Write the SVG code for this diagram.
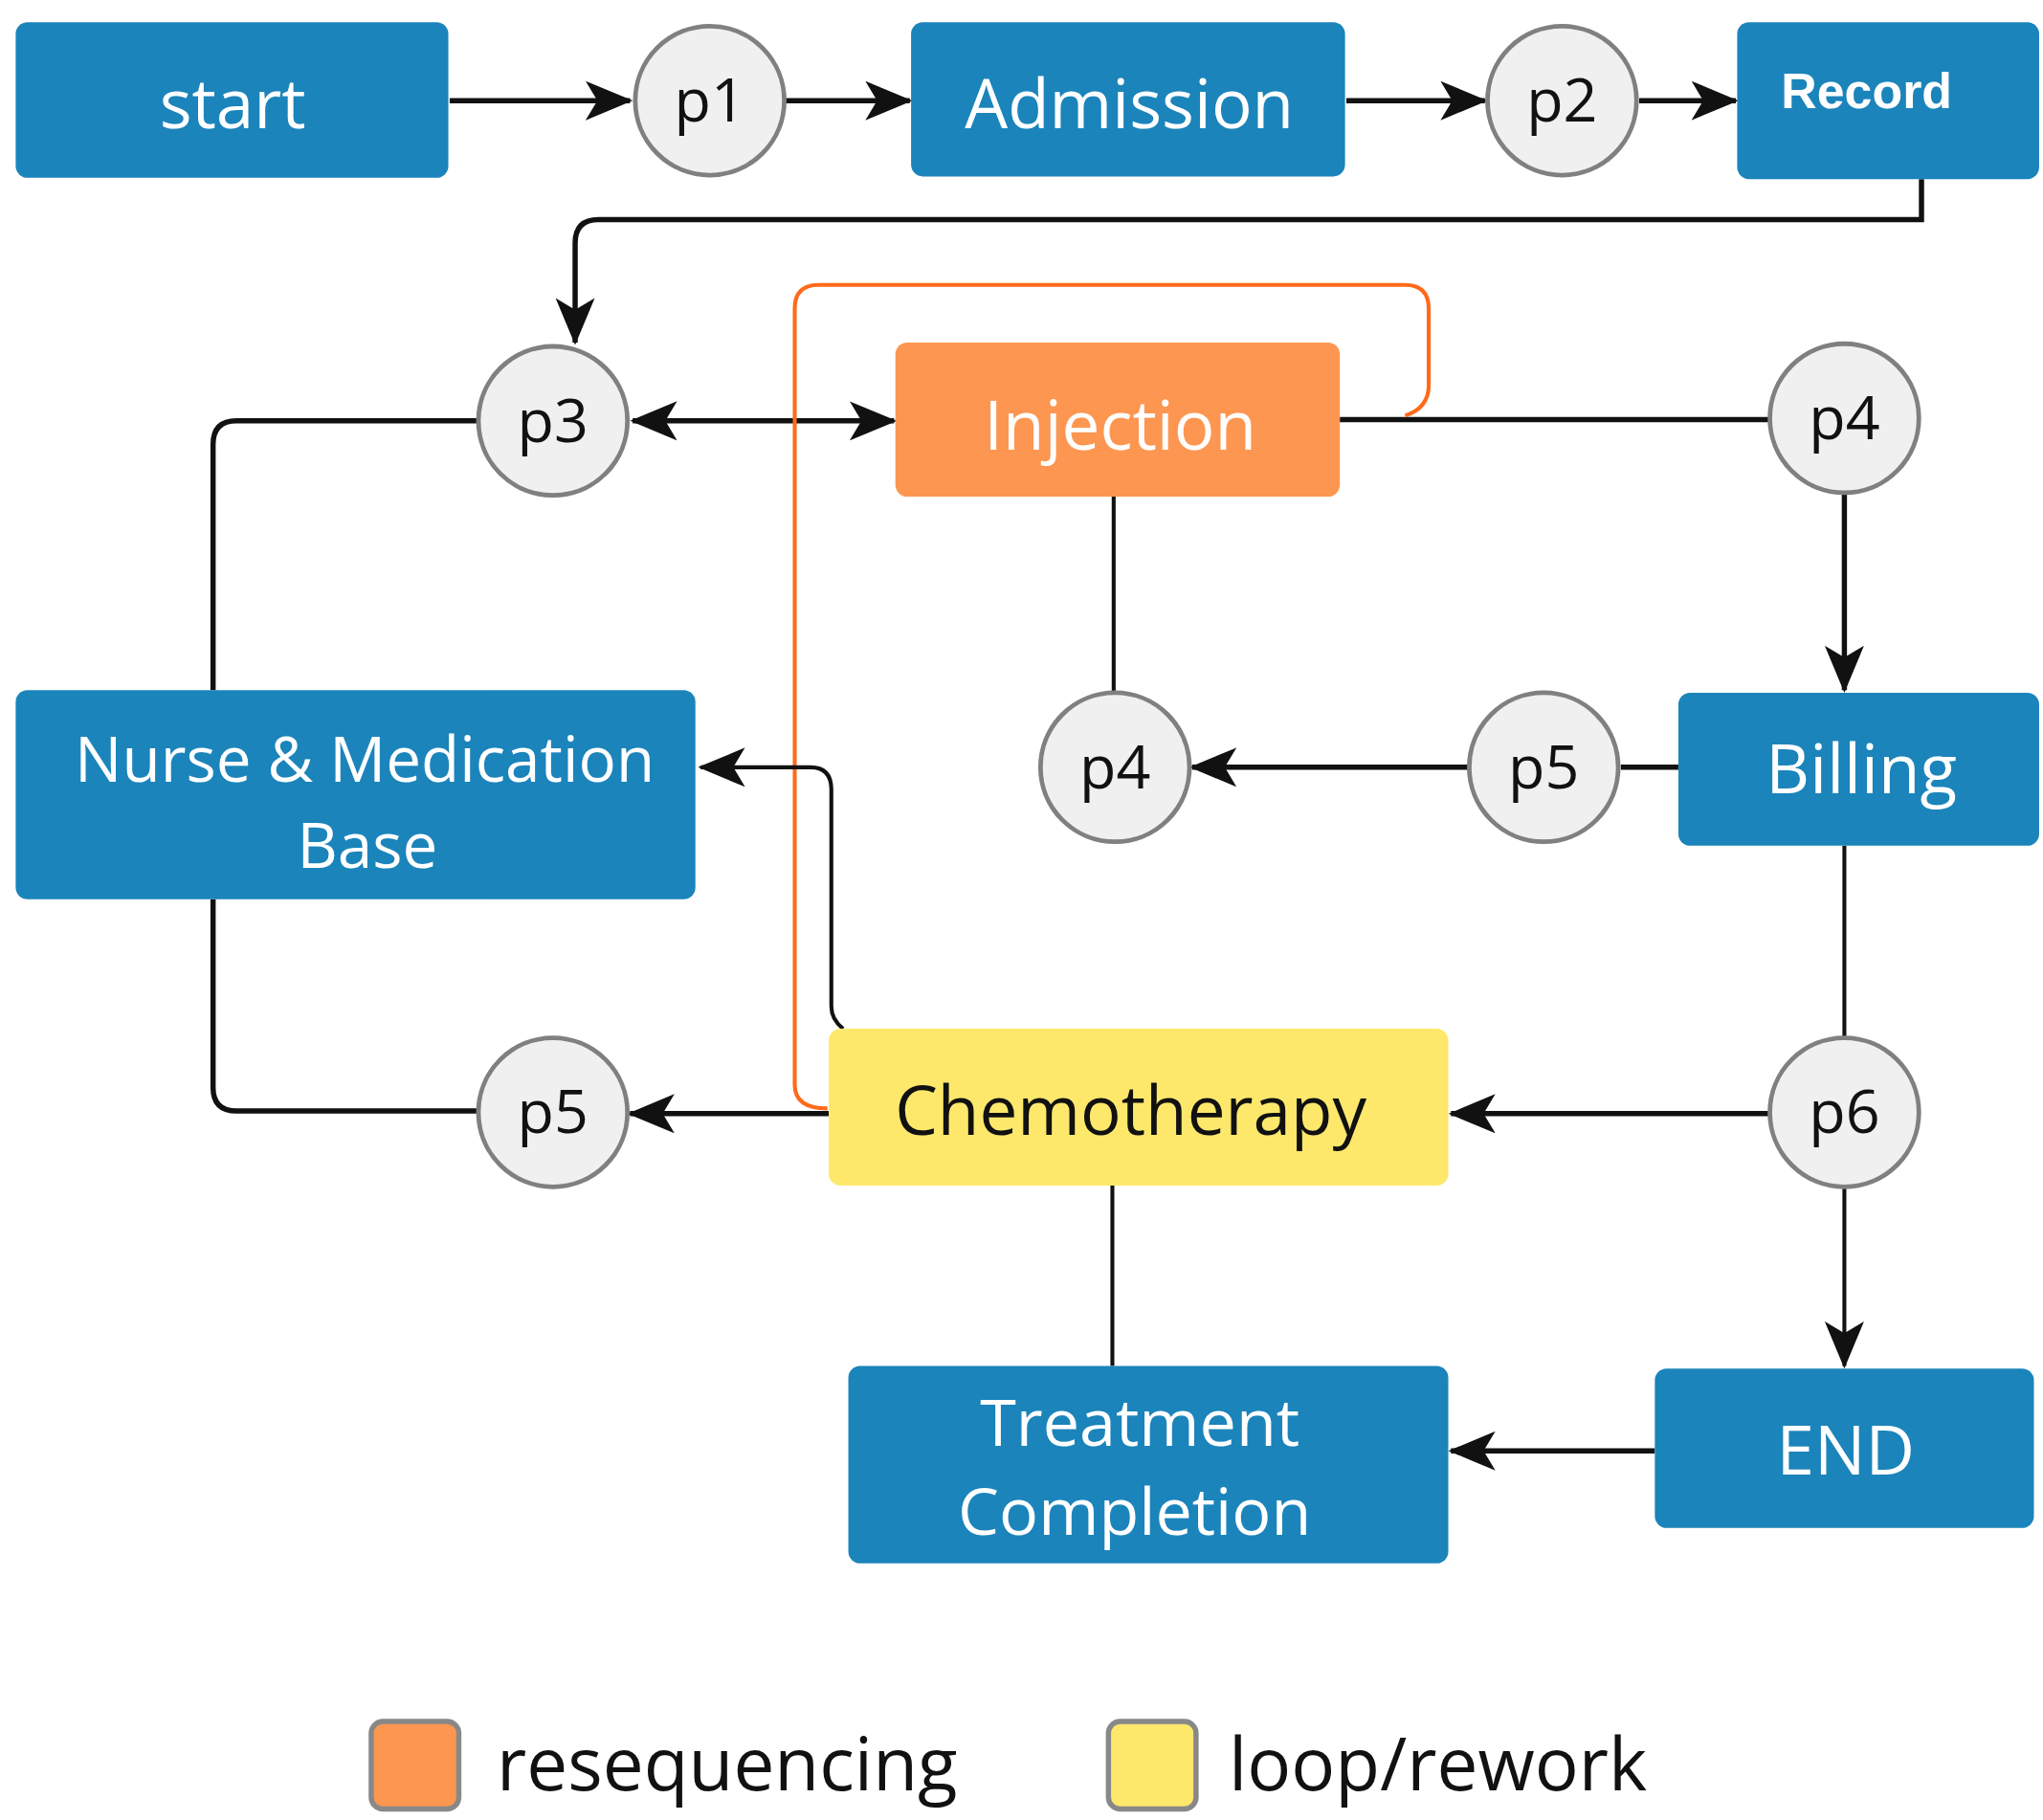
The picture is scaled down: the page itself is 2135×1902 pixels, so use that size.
<svg xmlns="http://www.w3.org/2000/svg" width="2135" height="1902" viewBox="0 0 2135 1902">
<style>
.box{fill:#1b84bb}
.pl{fill:#f0f0f0;stroke:#808080;stroke-width:3.5}
.t{font-family:"Open Sans","Noto Sans",sans-serif;fill:#fff;text-anchor:middle;font-size:52px}
.pt{font-family:"Open Sans","Noto Sans",sans-serif;fill:#111;text-anchor:middle;font-size:46px}
.c{fill:none;stroke:#111;stroke-width:4}
.c2{fill:none;stroke:#111;stroke-width:3}
</style>
<defs>
<marker id="a" markerUnits="userSpaceOnUse" markerWidth="36" markerHeight="30" refX="34" refY="15" orient="auto-start-reverse"><path d="M0,0 L36,15 L0,30 L9,15 Z" fill="#111"/></marker>
</defs>
<rect width="2135" height="1902" fill="#fff"/>
<g transform="scale(1.366)">
<g id="connectors">
<path class="c" d="M344,77 H482" marker-end="url(#a)"/>
<path class="c" d="M601,77 H696" marker-end="url(#a)"/>
<path class="c" d="M1030,77 H1136" marker-end="url(#a)"/>
<path class="c" d="M1254,77 H1328" marker-end="url(#a)"/>
<path class="c" d="M1470,137 V168 H458 Q440,168 440,186 V262" marker-end="url(#a)"/>
<path class="c" d="M484,322 H684" marker-start="url(#a)" marker-end="url(#a)"/>
<path class="c" d="M1025,321 H1354"/>
<path fill="none" stroke="#ff6a1a" stroke-width="3" d="M1075,318 Q1093,312 1093,295 V236 Q1093,218 1075,218 H626 Q608,218 608,236 V830 Q608,848 633,848"/>
<path class="c2" d="M852,380 V530"/>
<path class="c" d="M1411,378 V528" marker-end="url(#a)"/>
<path class="c" d="M1240,587 H1284"/>
<path class="c" d="M1123,587 H912" marker-end="url(#a)"/>
<path class="c" d="M365,322 H181 Q163,322 163,340 V528"/>
<path class="c" d="M163,688 V832 Q163,850 181,850 H365"/>
<path class="c" d="M634,852 H482" marker-end="url(#a)"/>
<path class="c2" d="M645,787 Q636,780 636,770 V604 Q636,587 620,587 H536" marker-end="url(#a)"/>
<path class="c2" d="M1411,647 V793"/>
<path class="c" d="M1353,852 H1110" marker-end="url(#a)"/>
<path class="c2" d="M1411,909 V1045" marker-end="url(#a)"/>
<path class="c" d="M1266,1110 H1110" marker-end="url(#a)"/>
<path class="c2" d="M851,907 V1045"/>
</g>
<g id="start"><rect class="box" x="12" y="17" width="331" height="119" rx="9"/><text class="t" x="178" y="98">start</text></g>
<g id="p1"><circle class="pl" cx="543" cy="77" r="57"/><text class="pt" x="543" y="93">p1</text></g>
<g id="admission"><rect class="box" x="697" y="17" width="332" height="118" rx="9"/><text class="t" x="864" y="98">Admission</text></g>
<g id="p2"><circle class="pl" cx="1195" cy="77" r="57"/><text class="pt" x="1195" y="93">p2</text></g>
<g id="record"><rect class="box" x="1329" y="17" width="231" height="120" rx="9"/><text class="t" x="1428" y="83" style="font-size:38px;font-weight:bold;font-family:'Liberation Sans',sans-serif">Record</text></g>
<g id="p3"><circle class="pl" cx="423" cy="322" r="57"/><text class="pt" x="423" y="338">p3</text></g>
<g id="injection"><rect x="685" y="262" width="340" height="118" rx="9" fill="#fd9650"/><text class="t" x="857" y="344">Injection</text></g>
<g id="p4a"><circle class="pl" cx="1411" cy="320" r="57"/><text class="pt" x="1411" y="336">p4</text></g>
<g id="nurse"><rect class="box" x="12" y="528" width="520" height="160" rx="9"/><text class="t" x="279" y="598" style="font-size:48px">Nurse &amp; Medication</text><text class="t" x="281" y="664" style="font-size:48px">Base</text></g>
<g id="p4b"><circle class="pl" cx="853" cy="587" r="57"/><text class="pt" x="853" y="603">p4</text></g>
<g id="p5a"><circle class="pl" cx="1181" cy="587" r="57"/><text class="pt" x="1181" y="603">p5</text></g>
<g id="billing"><rect class="box" x="1284" y="530" width="276" height="117" rx="9"/><text class="t" x="1424" y="607">Billing</text></g>
<g id="p5b"><circle class="pl" cx="423" cy="851" r="57"/><text class="pt" x="423" y="867">p5</text></g>
<g id="chemo"><rect x="634" y="787" width="474" height="120" rx="9" fill="#fde86c"/><text class="t" x="865" y="868" style="fill:#111">Chemotherapy</text></g>
<g id="p6"><circle class="pl" cx="1411" cy="851" r="57"/><text class="pt" x="1411" y="867">p6</text></g>
<g id="treatment"><rect class="box" x="649" y="1045" width="459" height="151" rx="9"/><text class="t" x="872" y="1106" style="font-size:50px">Treatment</text><text class="t" x="868" y="1174" style="font-size:50px">Completion</text></g>
<g id="end"><rect class="box" x="1266" y="1047" width="290" height="122" rx="9"/><text class="t" x="1412" y="1128">END</text></g>
<g id="legend">
<rect x="284" y="1317" width="67" height="67" rx="9" fill="#fd9650" stroke="#888" stroke-width="4"/>
<text x="380" y="1370" style="font-family:'Open Sans',sans-serif;font-size:56px;fill:#111">resequencing</text>
<rect x="848" y="1317" width="67" height="67" rx="9" fill="#fde86c" stroke="#888" stroke-width="4"/>
<text x="940" y="1370" style="font-family:'Open Sans',sans-serif;font-size:56px;fill:#111">loop/rework</text>
</g>
</g>
</svg>
